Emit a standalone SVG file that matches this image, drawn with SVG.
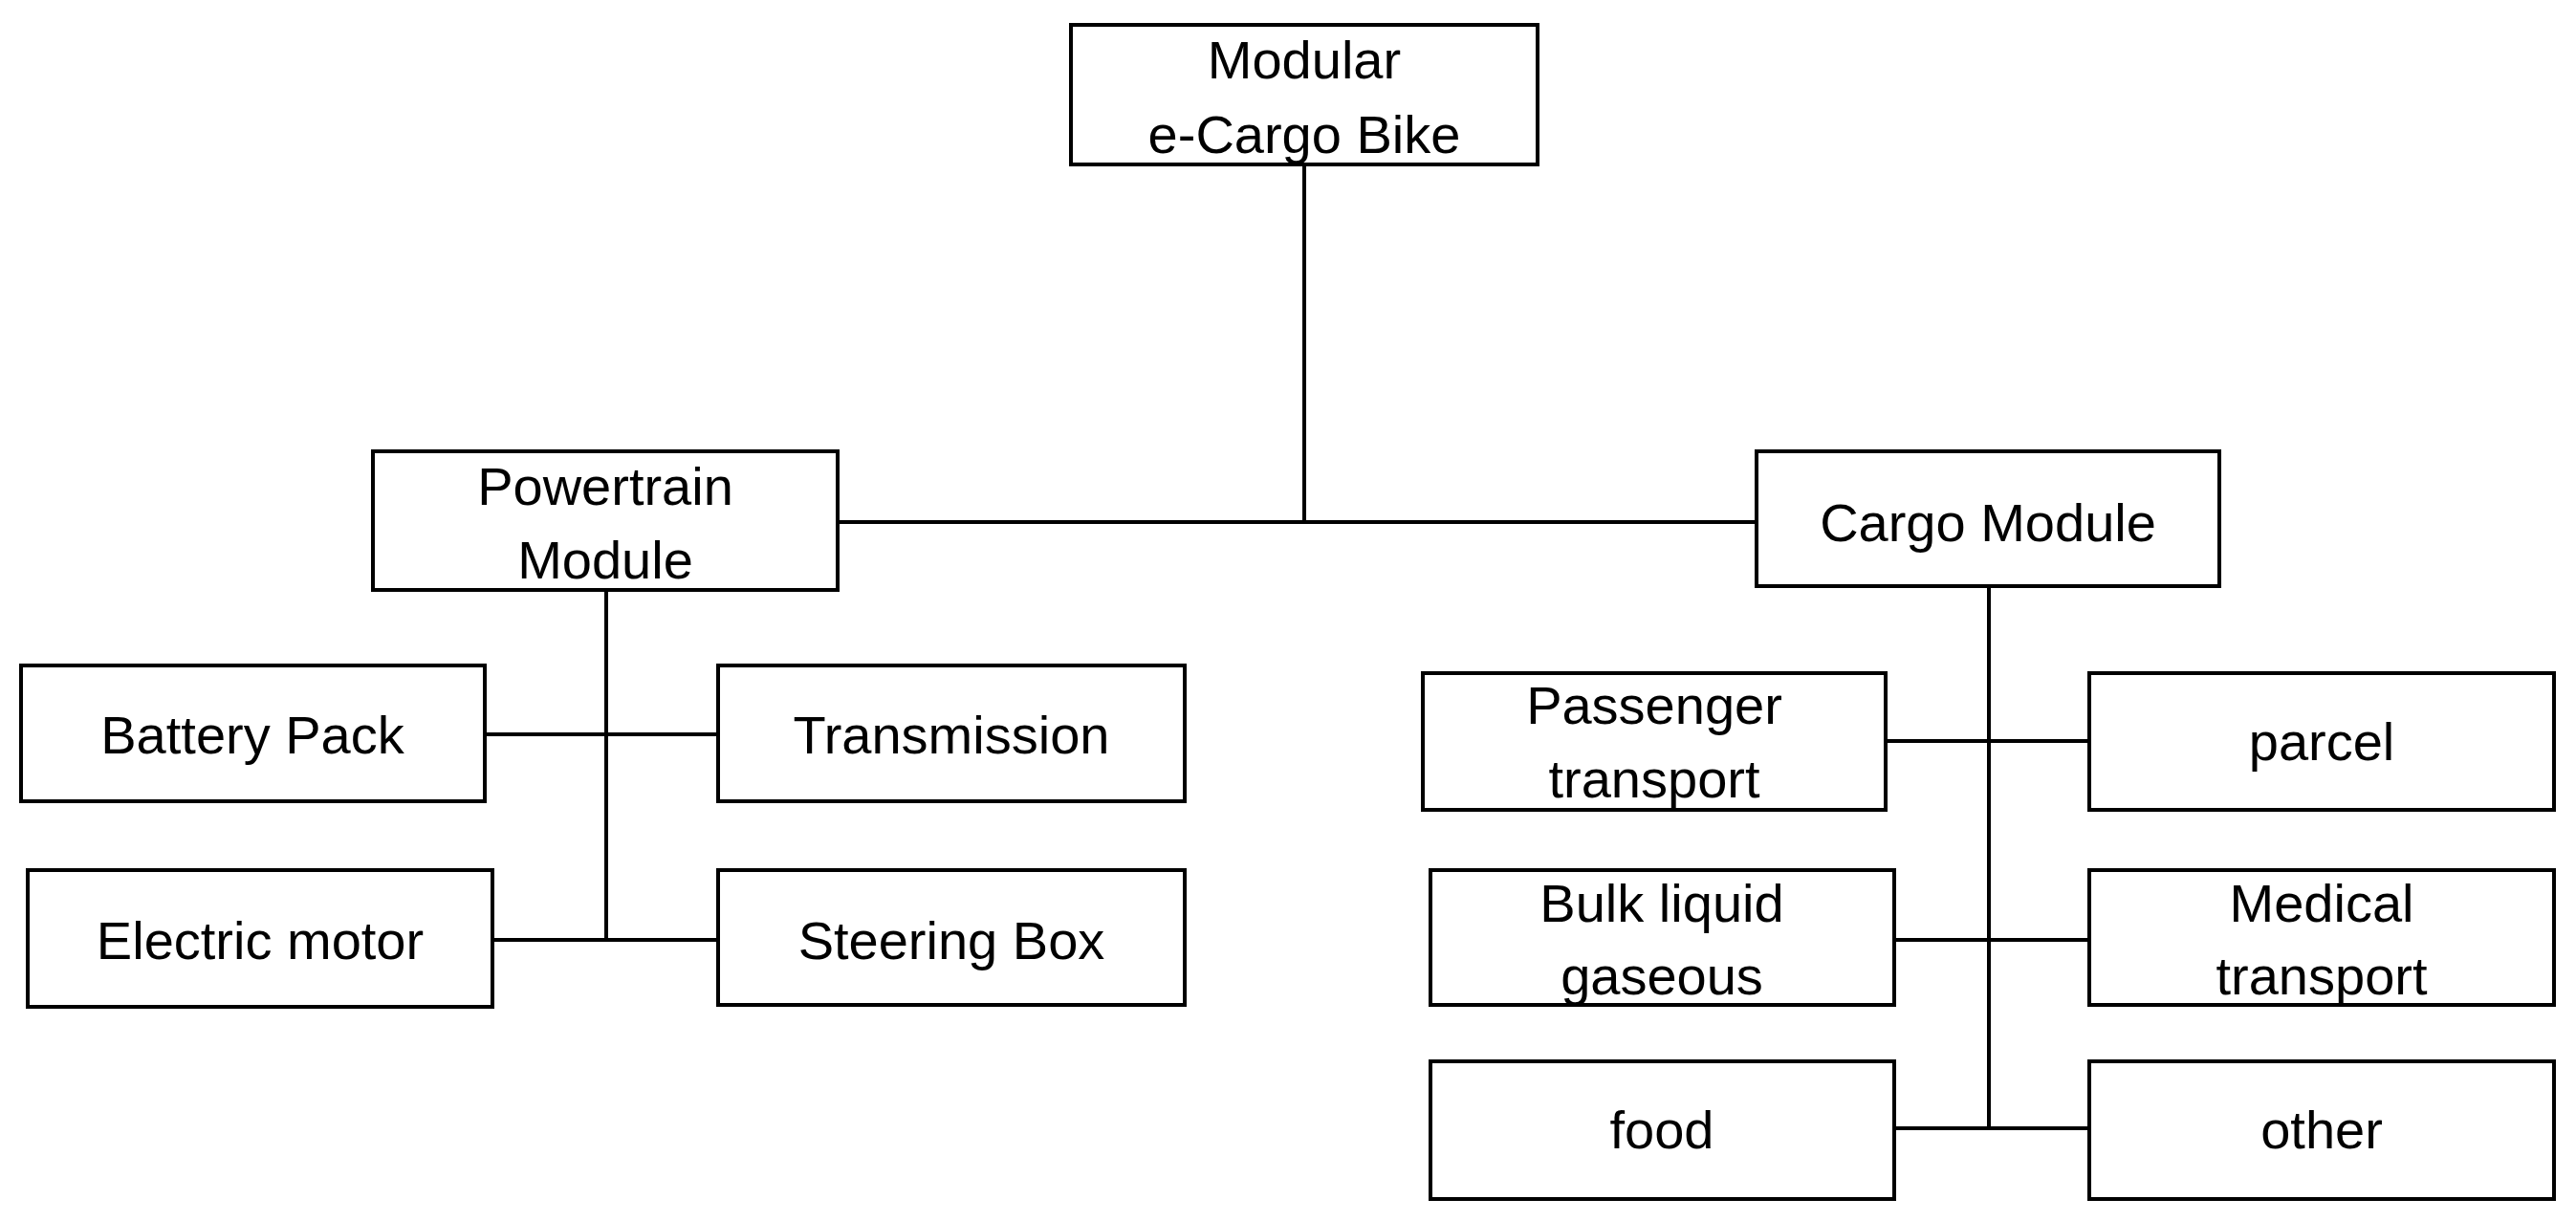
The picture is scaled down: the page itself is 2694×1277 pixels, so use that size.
<svg xmlns="http://www.w3.org/2000/svg" width="2694" height="1277" viewBox="0 0 2694 1277">
<style>
rect{fill:#fff;stroke:#000;stroke-width:4}
line{stroke:#000;stroke-width:4}
text{font-family:"Liberation Sans",Arial,sans-serif;font-size:56px;text-anchor:middle;fill:#000}
</style>
<rect x="0" y="0" width="2694" height="1277" style="stroke:none"/>
<g id="connectors">
<line x1="1364" y1="172" x2="1364" y2="546"/>
<line x1="876" y1="546" x2="1837" y2="546"/>
<line x1="634" y1="617" x2="634" y2="983"/>
<line x1="507" y1="768" x2="751" y2="768"/>
<line x1="515" y1="983" x2="751" y2="983"/>
<line x1="2080" y1="613" x2="2080" y2="1180"/>
<line x1="1972" y1="775" x2="2185" y2="775"/>
<line x1="1981" y1="983" x2="2185" y2="983"/>
<line x1="1981" y1="1180" x2="2185" y2="1180"/>
</g>
<g id="root"><rect x="1120" y="26" width="488" height="146"/><text x="1364" y="82">Modular</text><text x="1364" y="160">e-Cargo Bike</text></g>
<g id="powertrain"><rect x="390" y="472" width="486" height="145"/><text x="633" y="528">Powertrain</text><text x="633" y="605">Module</text></g>
<g id="cargo"><rect x="1837" y="472" width="484" height="141"/><text x="2079" y="566">Cargo Module</text></g>
<g id="battery"><rect x="22" y="696" width="485" height="142"/><text x="264" y="788">Battery Pack</text></g>
<g id="transmission"><rect x="751" y="696" width="488" height="142"/><text x="995" y="788">Transmission</text></g>
<g id="motor"><rect x="29" y="910" width="486" height="143"/><text x="272" y="1003">Electric motor</text></g>
<g id="steering"><rect x="751" y="910" width="488" height="141"/><text x="995" y="1003">Steering Box</text></g>
<g id="passenger"><rect x="1488" y="704" width="484" height="143"/><text x="1730" y="757">Passenger</text><text x="1730" y="834">transport</text></g>
<g id="parcel"><rect x="2185" y="704" width="486" height="143"/><text x="2428" y="795">parcel</text></g>
<g id="bulk"><rect x="1496" y="910" width="485" height="141"/><text x="1738" y="964">Bulk liquid</text><text x="1738" y="1040">gaseous</text></g>
<g id="medical"><rect x="2185" y="910" width="486" height="141"/><text x="2428" y="964">Medical</text><text x="2428" y="1040">transport</text></g>
<g id="food"><rect x="1496" y="1110" width="485" height="144"/><text x="1738" y="1201">food</text></g>
<g id="other"><rect x="2185" y="1110" width="486" height="144"/><text x="2428" y="1201">other</text></g>
</svg>
